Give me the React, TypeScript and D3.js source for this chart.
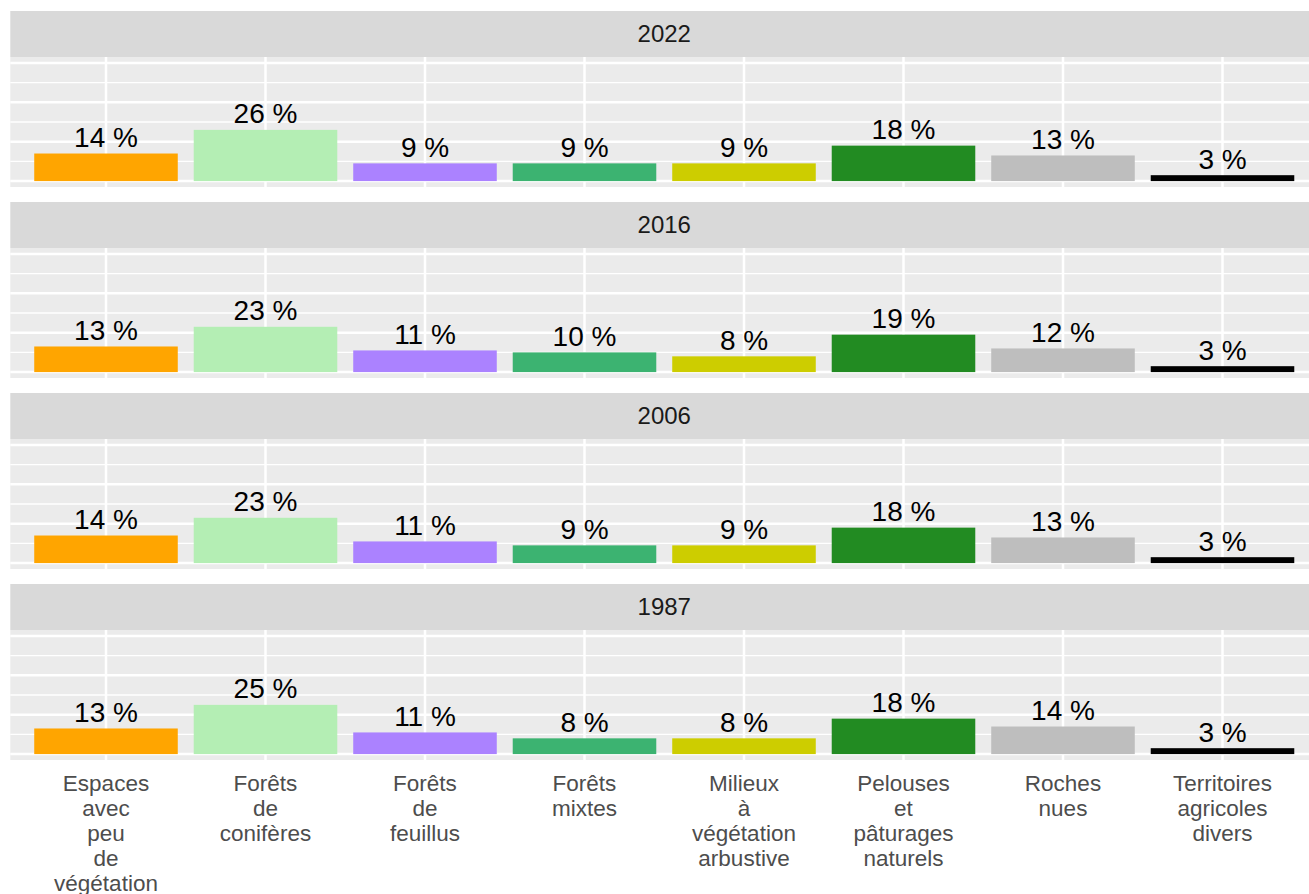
import React from "react";
import * as d3 from "d3";

const categories = [
  "Espaces avec peu de végétation",
  "Forêts de conifères",
  "Forêts de feuillus",
  "Forêts mixtes",
  "Milieux à végétation arbustive",
  "Pelouses et pâturages naturels",
  "Roches nues",
  "Territoires agricoles divers",
];
const colors = ["#FFA500", "#B4EEB4", "#AB82FF", "#3CB371", "#CDCD00", "#228B22", "#BEBEBE", "#000000"];
const years = ["2022", "2016", "2006", "1987"];
const values2022 = [14, 26, 9, 9, 9, 18, 13, 3];
const values2016 = [13, 23, 11, 10, 8, 19, 12, 3];
const values2006 = [14, 23, 11, 9, 9, 18, 13, 3];
const values1987 = [13, 25, 11, 8, 8, 18, 14, 3];
const seriesByYear = [values2022, values2016, values2006, values1987];
const majorTicks = [0, 20, 40, 60];
const minorTicks = [10, 30, 50];

const W = 1309;
const H = 894;
const FONT = "'Liberation Sans', Arial, Helvetica, sans-serif";

export default function App() {
  const left = 10.3;
  const right = 10.3 + 8.2 * 159.5;
  const x = d3.scaleBand<string>().domain(categories).range([left, right]).paddingInner(0.1).paddingOuter(0.15);
  const stripTop0 = 11;
  const stripH = 46;
  const panelH = 130;
  const period = 191;

  return (
    <div style={{ position: "absolute", left: 0, top: 0, width: W, height: H, overflow: "hidden", background: "#fff" }}>
      <svg width={W} height={H} style={{ display: "block" }} fontFamily={FONT}>
        <rect x={0} y={0} width={W} height={H} fill="#fff" />
        {years.map((yr, pi) => {
          const sTop = stripTop0 + pi * period;
          const pTop = sTop + stripH;
          const pBot = pTop + panelH;
          const y = d3.scaleLinear().domain([-3, 63]).range([pBot, pTop]);
          const vals = seriesByYear[pi];
          return (
            <g key={yr}>
              <rect x={left} y={sTop} width={right - left} height={stripH} fill="#D9D9D9" />
              <text x={(left + right) / 2} y={sTop + stripH / 2} dy="0.35em" textAnchor="middle" fontSize={24} fill="#1A1A1A">
                {yr}
              </text>
              <rect x={left} y={pTop} width={right - left} height={panelH} fill="#EBEBEB" />
              {minorTicks.map((t) => (
                <line key={"mi" + t} x1={left} x2={right} y1={y(t)} y2={y(t)} stroke="#fff" strokeWidth={1.3} />
              ))}
              {majorTicks.map((t) => (
                <line key={"ma" + t} x1={left} x2={right} y1={y(t)} y2={y(t)} stroke="#fff" strokeWidth={2.5} />
              ))}
              {categories.map((c) => {
                const cx = (x(c) as number) + x.bandwidth() / 2;
                return <line key={"v" + c} x1={cx} x2={cx} y1={pTop} y2={pBot} stroke="#fff" strokeWidth={2.5} />;
              })}
              {categories.map((c, i) => (
                <rect key={"b" + c} x={x(c)} y={y(vals[i])} width={x.bandwidth()} height={y(0) - y(vals[i])} fill={colors[i]} />
              ))}
              {categories.map((c, i) => (
                <text
                  key={"l" + c}
                  x={(x(c) as number) + x.bandwidth() / 2}
                  y={y(vals[i]) - 6.5}
                  textAnchor="middle"
                  fontSize={28}
                  fill="#000"
                >
                  {`${vals[i]} %`}
                </text>
              ))}
            </g>
          );
        })}
        {categories.map((c) => {
          const cx = (x(c) as number) + x.bandwidth() / 2;
          const words = c.split(" ");
          const baseY = stripTop0 + 3 * period + stripH + panelH + 31;
          return (
            <text key={"ax" + c} textAnchor="middle" fontSize={22.5} fill="#4D4D4D">
              {words.map((w, wi) => (
                <tspan key={wi} x={cx} y={baseY + wi * 25}>
                  {w}
                </tspan>
              ))}
            </text>
          );
        })}
      </svg>
    </div>
  );
}
